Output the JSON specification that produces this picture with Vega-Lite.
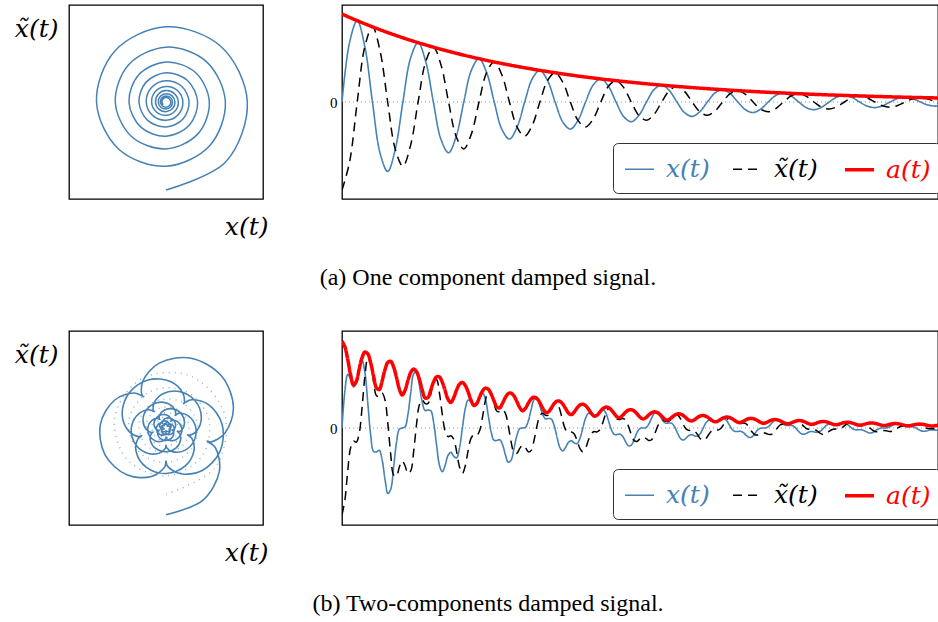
{
"$schema": "https://vega.github.io/schema/vega-lite/v6.json",
"padding": {"left": 13, "top": 4, "right": 0, "bottom": 0},
"background": "white",
"config": {
  "view": {"stroke": "#000", "strokeWidth": 1.3},
  "font": "Liberation Serif",
  "axis": {"grid": false, "titleFontWeight": "normal", "titleColor": "#000", "labelColor": "#000"},
  "legend": {"labelFont": "DejaVu Serif", "labelFontStyle": "italic", "labelFontSize": 25, "symbolType": "stroke", "symbolSize": 841, "strokeColor": "#333", "cornerRadius": 5, "padding": 10, "fillColor": "#fff", "labelOffset": 10, "columnPadding": 20}
},
"resolve": {
  "scale": {"color": "independent", "strokeDash": "independent", "strokeWidth": "independent"},
  "legend": {"color": "independent", "strokeDash": "independent", "strokeWidth": "independent"}
},
"datasets": {
"a": [
{"t":0,"x":0,"xt":-0.907,"a":0.907},{"t":1,"x":0.6166,"xt":-0.6166,"a":0.872},{"t":2,"x":0.8384,"xt":0,"a":0.8384},{"t":3,"x":0.5699,"xt":0.5699,"a":0.806},{"t":4,"x":0,"xt":0.7749,"a":0.7749},{"t":5,"x":-0.5268,"xt":0.5268,"a":0.745},{"t":6,"x":-0.7163,"xt":0,"a":0.7163},{"t":7,"x":-0.487,"xt":-0.487,"a":0.6887},
{"t":8,"x":0,"xt":-0.6621,"a":0.6621},{"t":9,"x":0.4501,"xt":-0.4501,"a":0.6366},{"t":10,"x":0.612,"xt":0,"a":0.612},{"t":11,"x":0.4161,"xt":0.4161,"a":0.5884},{"t":12,"x":0,"xt":0.5657,"a":0.5657},{"t":13,"x":-0.3846,"xt":0.3846,"a":0.5439},{"t":14,"x":-0.5229,"xt":0,"a":0.5229},{"t":15,"x":-0.3555,"xt":-0.3555,"a":0.5027},
{"t":16,"x":0,"xt":-0.4833,"a":0.4833},{"t":17,"x":0.3286,"xt":-0.3286,"a":0.4647},{"t":18,"x":0.4468,"xt":0,"a":0.4468},{"t":19,"x":0.3037,"xt":0.3037,"a":0.4295},{"t":20,"x":0,"xt":0.4129,"a":0.4129},{"t":21,"x":-0.2807,"xt":0.2807,"a":0.397},{"t":22,"x":-0.3817,"xt":0,"a":0.3817},{"t":23,"x":-0.2595,"xt":-0.2595,"a":0.367},
{"t":24,"x":0,"xt":-0.3528,"a":0.3528},{"t":25,"x":0.2398,"xt":-0.2398,"a":0.3392},{"t":26,"x":0.3262,"xt":0,"a":0.3262},{"t":27,"x":0.2217,"xt":0.2217,"a":0.3136},{"t":28,"x":0,"xt":0.3015,"a":0.3015},{"t":29,"x":-0.2049,"xt":0.2049,"a":0.2898},{"t":30,"x":-0.2787,"xt":0,"a":0.2787},{"t":31,"x":-0.1894,"xt":-0.1894,"a":0.2679},
{"t":32,"x":0,"xt":-0.2576,"a":0.2576},{"t":33,"x":0.1751,"xt":-0.1751,"a":0.2476},{"t":34,"x":0.2381,"xt":0,"a":0.2381},{"t":35,"x":0.1619,"xt":0.1619,"a":0.2289},{"t":36,"x":0,"xt":0.2201,"a":0.2201},{"t":37,"x":-0.1496,"xt":0.1496,"a":0.2116},{"t":38,"x":-0.2034,"xt":0,"a":0.2034},{"t":39,"x":-0.1383,"xt":-0.1383,"a":0.1956},
{"t":40,"x":0,"xt":-0.188,"a":0.188},{"t":41,"x":0.1278,"xt":-0.1278,"a":0.1808},{"t":42,"x":0.1738,"xt":0,"a":0.1738},{"t":43,"x":0.1182,"xt":0.1182,"a":0.1671},{"t":44,"x":0,"xt":0.1606,"a":0.1606},{"t":45,"x":-0.1092,"xt":0.1092,"a":0.1544},{"t":46,"x":-0.1485,"xt":0,"a":0.1485},{"t":47,"x":-0.101,"xt":-0.101,"a":0.1428},
{"t":48,"x":0,"xt":-0.1373,"a":0.1373},{"t":49,"x":0.0933,"xt":-0.0933,"a":0.132},{"t":50,"x":0.1269,"xt":0,"a":0.1269},{"t":51,"x":0.0863,"xt":0.0863,"a":0.122},{"t":52,"x":0,"xt":0.1173,"a":0.1173},{"t":53,"x":-0.0797,"xt":0.0797,"a":0.1127},{"t":54,"x":-0.1084,"xt":0,"a":0.1084},{"t":55,"x":-0.0737,"xt":-0.0737,"a":0.1042},
{"t":56,"x":0,"xt":-0.1002,"a":0.1002},{"t":57,"x":0.0681,"xt":-0.0681,"a":0.0963},{"t":58,"x":0.0926,"xt":0,"a":0.0926},{"t":59,"x":0.0629,"xt":0.0629,"a":0.089},{"t":60,"x":0,"xt":0.0856,"a":0.0856},{"t":61,"x":-0.0582,"xt":0.0582,"a":0.0823},{"t":62,"x":-0.0791,"xt":0,"a":0.0791},{"t":63,"x":-0.0538,"xt":-0.0538,"a":0.0761},
{"t":64,"x":0,"xt":-0.0731,"a":0.0731},{"t":65,"x":0.0497,"xt":-0.0497,"a":0.0703},{"t":66,"x":0.0676,"xt":0,"a":0.0676},{"t":67,"x":0.046,"xt":0.046,"a":0.065},{"t":68,"x":0,"xt":0.0625,"a":0.0625},{"t":69,"x":-0.0425,"xt":0.0425,"a":0.0601},{"t":70,"x":-0.0578,"xt":0,"a":0.0578},{"t":71,"x":-0.0392,"xt":-0.0392,"a":0.0555},
{"t":72,"x":0,"xt":-0.0534,"a":0.0534},{"t":73,"x":0.0363,"xt":-0.0363,"a":0.0513},{"t":74,"x":0.0494,"xt":0,"a":0.0494},{"t":75,"x":0.0335,"xt":0.0335,"a":0.0474},{"t":76,"x":0,"xt":0.0456,"a":0.0456},{"t":77,"x":-0.031,"xt":0.031,"a":0.0439},{"t":78,"x":-0.0422,"xt":0,"a":0.0422},{"t":79,"x":-0.0286,"xt":-0.0286,"a":0.0405}
],
"b": [
{"t":0,"x":0,"xt":-0.894,"a":0.894},{"t":1,"x":0.3788,"xt":-0.7461,"a":0.8367},{"t":2,"x":0.5506,"xt":-0.4436,"a":0.707},{"t":3,"x":0.5091,"xt":-0.2036,"a":0.5483},{"t":4,"x":0.4243,"xt":-0.1346,"a":0.445},{"t":5,"x":0.4597,"xt":-0.1453,"a":0.4821},{"t":6,"x":0.6062,"xt":-0.055,"a":0.6087},{"t":7,"x":0.6951,"xt":0.211,"a":0.7265},{"t":8,"x":0.5725,"xt":0.5358,"a":0.7841},{"t":9,"x":0.2576,"xt":0.7196,"a":0.7642},
{"t":10,"x":-0.0703,"xt":0.6691,"a":0.6727},{"t":11,"x":-0.2408,"xt":0.4799,"a":0.5369},{"t":12,"x":-0.246,"xt":0.3346,"a":0.4152},{"t":13,"x":-0.2295,"xt":0.3225,"a":0.3957},{"t":14,"x":-0.3281,"xt":0.3603,"a":0.4873},{"t":15,"x":-0.5278,"xt":0.2887,"a":0.6016},{"t":16,"x":-0.6752,"xt":0.0431,"a":0.6765},{"t":17,"x":-0.63,"xt":-0.2733,"a":0.6868},{"t":18,"x":-0.4042,"xt":-0.483,"a":0.6297},{"t":19,"x":-0.1497,"xt":-0.4997,"a":0.5217},
{"t":20,"x":-0.0129,"xt":-0.4011,"a":0.4012},{"t":21,"x":0,"xt":-0.3402,"a":0.3401},{"t":22,"x":0.0125,"xt":-0.3889,"a":0.3891},{"t":23,"x":0.1408,"xt":-0.4699,"a":0.4905},{"t":24,"x":0.3685,"xt":-0.4404,"a":0.5742},{"t":25,"x":0.557,"xt":-0.2417,"a":0.6072},{"t":26,"x":0.5788,"xt":0.0369,"a":0.58},{"t":27,"x":0.4388,"xt":0.24,"a":0.5001},{"t":28,"x":0.2645,"xt":0.2905,"a":0.3928},{"t":29,"x":0.1794,"xt":0.2521,"a":0.3093},
{"t":30,"x":0.1865,"xt":0.2536,"a":0.3147},{"t":31,"x":0.177,"xt":0.3527,"a":0.3946},{"t":32,"x":0.0501,"xt":0.4769,"a":0.4794},{"t":33,"x":-0.178,"xt":0.4973,"a":0.5282},{"t":34,"x":-0.3837,"xt":0.3591,"a":0.5254},{"t":35,"x":-0.4517,"xt":0.1371,"a":0.4721},{"t":36,"x":-0.382,"xt":-0.0346,"a":0.3836},{"t":37,"x":-0.2809,"xt":-0.0888,"a":0.2946},{"t":38,"x":-0.2514,"xt":-0.0797,"a":0.2637},{"t":39,"x":-0.2925,"xt":-0.117,"a":0.315},
{"t":40,"x":-0.3068,"xt":-0.2472,"a":0.3939},{"t":41,"x":-0.2047,"xt":-0.4031,"a":0.452},{"t":42,"x":0,"xt":-0.4683,"a":0.4683},{"t":43,"x":0.1985,"xt":-0.3909,"a":0.4383},{"t":44,"x":0.2884,"xt":-0.2324,"a":0.3704},{"t":45,"x":0.2667,"xt":-0.1066,"a":0.2872},{"t":46,"x":0.2223,"xt":-0.0705,"a":0.2331},{"t":47,"x":0.2408,"xt":-0.0761,"a":0.2526},{"t":48,"x":0.3176,"xt":-0.0288,"a":0.3189},{"t":49,"x":0.3642,"xt":0.1105,"a":0.3806},
{"t":50,"x":0.2999,"xt":0.2807,"a":0.4107},{"t":51,"x":0.135,"xt":0.377,"a":0.4004},{"t":52,"x":-0.0368,"xt":0.3505,"a":0.3524},{"t":53,"x":-0.1261,"xt":0.2514,"a":0.2812},{"t":54,"x":-0.1289,"xt":0.1753,"a":0.2175},{"t":55,"x":-0.1202,"xt":0.169,"a":0.2073},{"t":56,"x":-0.1719,"xt":0.1888,"a":0.2553},{"t":57,"x":-0.2765,"xt":0.1512,"a":0.3151},{"t":58,"x":-0.3537,"xt":0.0226,"a":0.3544},{"t":59,"x":-0.3301,"xt":-0.1432,"a":0.3598},
{"t":60,"x":-0.2117,"xt":-0.253,"a":0.3299},{"t":61,"x":-0.0784,"xt":-0.2618,"a":0.2733},{"t":62,"x":-0.0067,"xt":-0.2101,"a":0.2102},{"t":63,"x":0,"xt":-0.1782,"a":0.1782},{"t":64,"x":0.0065,"xt":-0.2038,"a":0.2038},{"t":65,"x":0.0738,"xt":-0.2462,"a":0.257},{"t":66,"x":0.1931,"xt":-0.2307,"a":0.3008},{"t":67,"x":0.2918,"xt":-0.1266,"a":0.3181},{"t":68,"x":0.3032,"xt":0.0193,"a":0.3038},{"t":69,"x":0.2299,"xt":0.1257,"a":0.262},
{"t":70,"x":0.1386,"xt":0.1522,"a":0.2058},{"t":71,"x":0.094,"xt":0.1321,"a":0.162},{"t":72,"x":0.0977,"xt":0.1329,"a":0.1649},{"t":73,"x":0.0927,"xt":0.1848,"a":0.2067},{"t":74,"x":0.0262,"xt":0.2498,"a":0.2512},{"t":75,"x":-0.0933,"xt":0.2605,"a":0.2767},{"t":76,"x":-0.201,"xt":0.1881,"a":0.2753},{"t":77,"x":-0.2366,"xt":0.0718,"a":0.2473},{"t":78,"x":-0.2001,"xt":-0.0181,"a":0.2009},{"t":79,"x":-0.1472,"xt":-0.0465,"a":0.1543},
{"t":80,"x":-0.1317,"xt":-0.0418,"a":0.1381},{"t":81,"x":-0.1532,"xt":-0.0613,"a":0.165},{"t":82,"x":-0.1607,"xt":-0.1295,"a":0.2064},{"t":83,"x":-0.1072,"xt":-0.2112,"a":0.2368},{"t":84,"x":0,"xt":-0.2453,"a":0.2453},{"t":85,"x":0.104,"xt":-0.2048,"a":0.2296},{"t":86,"x":0.1511,"xt":-0.1217,"a":0.194},{"t":87,"x":0.1397,"xt":-0.0559,"a":0.1505},{"t":88,"x":0.1165,"xt":-0.0369,"a":0.1221},{"t":89,"x":0.1262,"xt":-0.0399,"a":0.1323},
{"t":90,"x":0.1664,"xt":-0.0151,"a":0.1671},{"t":91,"x":0.1908,"xt":0.0579,"a":0.1994},{"t":92,"x":0.1571,"xt":0.147,"a":0.2152},{"t":93,"x":0.0707,"xt":0.1975,"a":0.2097},{"t":94,"x":-0.0193,"xt":0.1836,"a":0.1846},{"t":95,"x":-0.0661,"xt":0.1317,"a":0.1473},{"t":96,"x":-0.0675,"xt":0.0918,"a":0.1139},{"t":97,"x":-0.063,"xt":0.0885,"a":0.1086},{"t":98,"x":-0.09,"xt":0.0989,"a":0.1337},{"t":99,"x":-0.1449,"xt":0.0792,"a":0.1651},
{"t":100,"x":-0.1853,"xt":0.0118,"a":0.1857},{"t":101,"x":-0.1729,"xt":-0.075,"a":0.1885},{"t":102,"x":-0.1109,"xt":-0.1326,"a":0.1728},{"t":103,"x":-0.0411,"xt":-0.1371,"a":0.1432},{"t":104,"x":-0.0035,"xt":-0.1101,"a":0.1101},{"t":105,"x":0,"xt":-0.0934,"a":0.0933},{"t":106,"x":0.0034,"xt":-0.1067,"a":0.1068},{"t":107,"x":0.0386,"xt":-0.129,"a":0.1346},{"t":108,"x":0.1011,"xt":-0.1209,"a":0.1576},{"t":109,"x":0.1529,"xt":-0.0663,"a":0.1666},
{"t":110,"x":0.1589,"xt":0.0101,"a":0.1592},{"t":111,"x":0.1204,"xt":0.0659,"a":0.1373},{"t":112,"x":0.0726,"xt":0.0797,"a":0.1078},{"t":113,"x":0.0492,"xt":0.0692,"a":0.0849},{"t":114,"x":0.0512,"xt":0.0696,"a":0.0864},{"t":115,"x":0.0486,"xt":0.0968,"a":0.1083},{"t":116,"x":0.0138,"xt":0.1309,"a":0.1316},{"t":117,"x":-0.0489,"xt":0.1365,"a":0.145},{"t":118,"x":-0.1053,"xt":0.0985,"a":0.1442},{"t":119,"x":-0.124,"xt":0.0376,"a":0.1296},
{"t":120,"x":-0.1048,"xt":-0.0095,"a":0.1053},{"t":121,"x":-0.0771,"xt":-0.0244,"a":0.0809},{"t":122,"x":-0.069,"xt":-0.0219,"a":0.0724},{"t":123,"x":-0.0803,"xt":-0.0321,"a":0.0865},{"t":124,"x":-0.0842,"xt":-0.0678,"a":0.1081},{"t":125,"x":-0.0562,"xt":-0.1106,"a":0.1241},{"t":126,"x":0,"xt":-0.1285,"a":0.1285},{"t":127,"x":0.0545,"xt":-0.1073,"a":0.1203},{"t":128,"x":0.0792,"xt":-0.0638,"a":0.1016},{"t":129,"x":0.0732,"xt":-0.0293,"a":0.0788},
{"t":130,"x":0.061,"xt":-0.0193,"a":0.064},{"t":131,"x":0.0661,"xt":-0.0209,"a":0.0693},{"t":132,"x":0.0872,"xt":-0.0079,"a":0.0875},{"t":133,"x":0.0999,"xt":0.0303,"a":0.1044},{"t":134,"x":0.0823,"xt":0.077,"a":0.1127},{"t":135,"x":0.037,"xt":0.1035,"a":0.1099},{"t":136,"x":-0.0101,"xt":0.0962,"a":0.0967},{"t":137,"x":-0.0346,"xt":0.069,"a":0.0772},{"t":138,"x":-0.0354,"xt":0.0481,"a":0.0597},{"t":139,"x":-0.033,"xt":0.0464,"a":0.0569},
{"t":140,"x":-0.0472,"xt":0.0518,"a":0.0701},{"t":141,"x":-0.0759,"xt":0.0415,"a":0.0865},{"t":142,"x":-0.0971,"xt":0.0062,"a":0.0973},{"t":143,"x":-0.0906,"xt":-0.0393,"a":0.0987},{"t":144,"x":-0.0581,"xt":-0.0694,"a":0.0905},{"t":145,"x":-0.0215,"xt":-0.0718,"a":0.075},{"t":146,"x":-0.0018,"xt":-0.0577,"a":0.0577},{"t":147,"x":0,"xt":-0.0489,"a":0.0489},{"t":148,"x":0.0018,"xt":-0.0559,"a":0.0559},{"t":149,"x":0.0202,"xt":-0.0676,"a":0.0705},
{"t":150,"x":0.053,"xt":-0.0633,"a":0.0825},{"t":151,"x":0.0801,"xt":-0.0347,"a":0.0873},{"t":152,"x":0.0832,"xt":0.0053,"a":0.0834},{"t":153,"x":0.0631,"xt":0.0345,"a":0.0719},{"t":154,"x":0.038,"xt":0.0418,"a":0.0565},{"t":155,"x":0.0258,"xt":0.0362,"a":0.0445},{"t":156,"x":0.0268,"xt":0.0365,"a":0.0452},{"t":157,"x":0.0254,"xt":0.0507,"a":0.0567},{"t":158,"x":0.0072,"xt":0.0686,"a":0.0689},{"t":159,"x":-0.0256,"xt":0.0715,"a":0.0759},
{"t":160,"x":-0.0552,"xt":0.0516,"a":0.0755},{"t":161,"x":-0.0649,"xt":0.0197,"a":0.0679},{"t":162,"x":-0.0549,"xt":-0.005,"a":0.0552},{"t":163,"x":-0.0404,"xt":-0.0128,"a":0.0424},{"t":164,"x":-0.0361,"xt":-0.0115,"a":0.0379},{"t":165,"x":-0.0421,"xt":-0.0168,"a":0.0453},{"t":166,"x":-0.0441,"xt":-0.0355,"a":0.0566},{"t":167,"x":-0.0294,"xt":-0.058,"a":0.065},{"t":168,"x":0,"xt":-0.0673,"a":0.0673},{"t":169,"x":0.0285,"xt":-0.0562,"a":0.063},
{"t":170,"x":0.0415,"xt":-0.0334,"a":0.0533},{"t":171,"x":0.0383,"xt":-0.0153,"a":0.0413},{"t":172,"x":0.032,"xt":-0.0101,"a":0.0335},{"t":173,"x":0.0346,"xt":-0.0109,"a":0.0363},{"t":174,"x":0.0457,"xt":-0.0041,"a":0.0459},{"t":175,"x":0.0524,"xt":0.0159,"a":0.0547},{"t":176,"x":0.0431,"xt":0.0404,"a":0.0591},{"t":177,"x":0.0194,"xt":0.0542,"a":0.0576},{"t":178,"x":-0.0053,"xt":0.0504,"a":0.0507},{"t":179,"x":-0.0181,"xt":0.0361,"a":0.0404},
{"t":180,"x":-0.0185,"xt":0.0252,"a":0.0313},{"t":181,"x":-0.0173,"xt":0.0243,"a":0.0298},{"t":182,"x":-0.0247,"xt":0.0271,"a":0.0367},{"t":183,"x":-0.0398,"xt":0.0217,"a":0.0453},{"t":184,"x":-0.0509,"xt":0.0032,"a":0.051},{"t":185,"x":-0.0475,"xt":-0.0206,"a":0.0517},{"t":186,"x":-0.0304,"xt":-0.0364,"a":0.0474},{"t":187,"x":-0.0113,"xt":-0.0376,"a":0.0393},{"t":188,"x":-0.001,"xt":-0.0302,"a":0.0302},{"t":189,"x":0,"xt":-0.0256,"a":0.0256},
{"t":190,"x":0.0009,"xt":-0.0293,"a":0.0293},{"t":191,"x":0.0106,"xt":-0.0354,"a":0.037},{"t":192,"x":0.0278,"xt":-0.0332,"a":0.0433},{"t":193,"x":0.042,"xt":-0.0182,"a":0.0457},{"t":194,"x":0.0436,"xt":0.0028,"a":0.0437},{"t":195,"x":0.0331,"xt":0.0181,"a":0.0377},{"t":196,"x":0.0199,"xt":0.0219,"a":0.0296},{"t":197,"x":0.0135,"xt":0.019,"a":0.0233},{"t":198,"x":0.014,"xt":0.0191,"a":0.0237},{"t":199,"x":0.0133,"xt":0.0266,"a":0.0297},
{"t":200,"x":0.0038,"xt":0.0359,"a":0.0361},{"t":201,"x":-0.0134,"xt":0.0375,"a":0.0398},{"t":202,"x":-0.0289,"xt":0.027,"a":0.0396},{"t":203,"x":-0.034,"xt":0.0103,"a":0.0356},{"t":204,"x":-0.0288,"xt":-0.0026,"a":0.0289},{"t":205,"x":-0.0212,"xt":-0.0067,"a":0.0222},{"t":206,"x":-0.0189,"xt":-0.006,"a":0.0199},{"t":207,"x":-0.022,"xt":-0.0088,"a":0.0237},{"t":208,"x":-0.0231,"xt":-0.0186,"a":0.0297}
],
"b1": [
{"t":0,"x":0,"xt":-0.682},{"t":3,"x":0.5091,"xt":-0.406},{"t":6,"x":0.6062,"xt":0.1383},{"t":9,"x":0.2576,"xt":0.535},{"t":12,"x":-0.246,"xt":0.5109},{"t":15,"x":-0.5278,"xt":0.1204},{"t":18,"x":-0.4042,"xt":-0.3223},
{"t":21,"x":0,"xt":-0.4936},{"t":24,"x":0.3685,"xt":-0.2939},{"t":27,"x":0.4388,"xt":0.1001},{"t":30,"x":0.1865,"xt":0.3872},{"t":33,"x":-0.178,"xt":0.3698},{"t":36,"x":-0.382,"xt":0.0872},{"t":39,"x":-0.2925,"xt":-0.2333},
{"t":42,"x":0,"xt":-0.3573},{"t":45,"x":0.2667,"xt":-0.2127},{"t":48,"x":0.3176,"xt":0.0725},{"t":51,"x":0.135,"xt":0.2803},{"t":54,"x":-0.1289,"xt":0.2676},{"t":57,"x":-0.2765,"xt":0.0631},{"t":60,"x":-0.2117,"xt":-0.1688},
{"t":63,"x":0,"xt":-0.2586},{"t":66,"x":0.1931,"xt":-0.1539},{"t":69,"x":0.2299,"xt":0.0524},{"t":72,"x":0.0977,"xt":0.2029},{"t":75,"x":-0.0933,"xt":0.1937},{"t":78,"x":-0.2001,"xt":0.0457},{"t":81,"x":-0.1532,"xt":-0.1222},
{"t":84,"x":0,"xt":-0.1872},{"t":87,"x":0.1397,"xt":-0.1114},{"t":90,"x":0.1664,"xt":0.038},{"t":93,"x":0.0707,"xt":0.1468},{"t":96,"x":-0.0675,"xt":0.1402},{"t":99,"x":-0.1449,"xt":0.033},{"t":102,"x":-0.1109,"xt":-0.0885},
{"t":105,"x":0,"xt":-0.1355},{"t":108,"x":0.1011,"xt":-0.0807},{"t":111,"x":0.1204,"xt":0.0275},{"t":114,"x":0.0512,"xt":0.1063},{"t":117,"x":-0.0489,"xt":0.1015},{"t":120,"x":-0.1048,"xt":0.0239},{"t":123,"x":-0.0803,"xt":-0.064},
{"t":126,"x":0,"xt":-0.0981},{"t":129,"x":0.0732,"xt":-0.0584},{"t":132,"x":0.0872,"xt":0.0199},{"t":135,"x":0.037,"xt":0.0769},{"t":138,"x":-0.0354,"xt":0.0734},{"t":141,"x":-0.0759,"xt":0.0173},{"t":144,"x":-0.0581,"xt":-0.0463},{"t":147,"x":0,"xt":-0.071}
]
},
"concat": [
  {
   "width": 194, "height": 194,
   "data": {"name": "a"},
   "mark": {"type": "line", "interpolate": "catmull-rom", "color": "#4682b4", "strokeWidth": 1.5},
   "encoding": {
    "x": {"field": "x", "type": "quantitative", "scale": {"domain": [-1, 1], "nice": false, "zero": false}, "axis": {"title": "x(t)", "labels": false, "ticks": false, "domain": false, "titleAngle": 0, "titleAlign": "right", "titleBaseline": "alphabetic", "titleX": 199, "titleY": 35, "titleFont": "DejaVu Serif", "titleFontStyle": "italic", "titleFontSize": 25}},
    "y": {"field": "xt", "type": "quantitative", "scale": {"domain": [-1, 1], "nice": false, "zero": false}, "axis": {"title": "x̃(t)", "labels": false, "ticks": false, "domain": false, "titleAngle": 0, "titleAlign": "right", "titleBaseline": "alphabetic", "titleX": -11, "titleY": 31, "titleFont": "DejaVu Serif", "titleFontStyle": "italic", "titleFontSize": 25}},
    "order": {"field": "t", "type": "quantitative"}
   }
  },
  {
   "width": 596, "height": 194,
   "title": {"text": "(a) One component damped signal.", "orient": "bottom", "anchor": "middle", "frame": "group", "offset": 86, "dx": -152, "baseline": "alphabetic", "font": "Liberation Serif", "fontSize": 24, "fontWeight": "normal", "color": "#000"},
   "layer": [
    {
     "data": {"values": [{"zero": 0}]},
     "mark": {"type": "rule", "color": "#999", "strokeDash": [1, 3], "strokeWidth": 1},
     "encoding": {"y": {"field": "zero", "type": "quantitative", "scale": {"domain": [-1, 1], "nice": false, "zero": false}, "axis": {"values": [0], "ticks": false, "domain": false, "title": null, "labelFont": "Liberation Serif", "labelFontSize": 15, "labelPadding": 5}}}
    },
    {
     "data": {"name": "a"},
     "transform": [{"fold": ["x", "xt", "a"], "as": ["series", "v"]}],
     "mark": {"type": "line", "interpolate": "catmull-rom", "clip": true},
     "encoding": {
      "x": {"field": "t", "type": "quantitative", "scale": {"domain": [0, 78.3], "nice": false, "zero": false}, "axis": null},
      "y": {"field": "v", "type": "quantitative", "scale": {"domain": [-1, 1], "nice": false, "zero": false}, "axis": {"values": [0], "ticks": false, "domain": false, "title": null, "labelFont": "Liberation Serif", "labelFontSize": 15, "labelPadding": 5}},
      "color": {"field": "series", "type": "nominal", "scale": {"domain": ["x", "xt", "a"], "range": ["#4682b4", "#000000", "#ff0000"]}, "legend": {"title": null, "orient": "none", "legendX": 271, "legendY": 138, "direction": "horizontal", "columns": 3, "labelExpr": "datum.value == 'x' ? 'x(t)' : (datum.value == 'xt' ? 'x̃(t)' : 'a(t)')", "encode": {"labels": {"update": {"fill": {"signal": "datum.value == 'x' ? '#4682b4' : (datum.value == 'a' ? '#ff0000' : '#000000')"}}}}}},
      "strokeDash": {"field": "series", "type": "nominal", "scale": {"domain": ["x", "xt", "a"], "range": [[1, 0], [9, 6], [1, 0]]}},
      "strokeWidth": {"field": "series", "type": "ordinal", "scale": {"type": "ordinal", "domain": ["x", "xt", "a"], "range": [1.6, 1.5, 3.5]}}
     }
    }
   ]
  },
  {
   "width": 194, "height": 194,
   "layer": [
    {
     "data": {"name": "b1"},
     "mark": {"type": "line", "interpolate": "catmull-rom", "color": "#8ab3d8", "strokeWidth": 1.5, "strokeDash": [1, 5]},
     "encoding": {
      "x": {"field": "x", "type": "quantitative", "scale": {"domain": [-1, 1], "nice": false, "zero": false}, "axis": {"title": "x(t)", "labels": false, "ticks": false, "domain": false, "titleAngle": 0, "titleAlign": "right", "titleBaseline": "alphabetic", "titleX": 199, "titleY": 35, "titleFont": "DejaVu Serif", "titleFontStyle": "italic", "titleFontSize": 25}},
      "y": {"field": "xt", "type": "quantitative", "scale": {"domain": [-1, 1], "nice": false, "zero": false}, "axis": {"title": "x̃(t)", "labels": false, "ticks": false, "domain": false, "titleAngle": 0, "titleAlign": "right", "titleBaseline": "alphabetic", "titleX": -11, "titleY": 31, "titleFont": "DejaVu Serif", "titleFontStyle": "italic", "titleFontSize": 25}},
      "order": {"field": "t", "type": "quantitative"}
     }
    },
    {
     "data": {"name": "b"},
     "mark": {"type": "line", "interpolate": "catmull-rom", "color": "#4682b4", "strokeWidth": 1.6},
     "encoding": {
      "x": {"field": "x", "type": "quantitative"},
      "y": {"field": "xt", "type": "quantitative"},
      "order": {"field": "t", "type": "quantitative"}
     }
    }
   ]
  },
  {
   "width": 596, "height": 194,
   "title": {"text": "(b) Two-components damped signal.", "orient": "bottom", "anchor": "middle", "frame": "group", "offset": 86, "dx": -152, "baseline": "alphabetic", "font": "Liberation Serif", "fontSize": 24, "fontWeight": "normal", "color": "#000"},
   "layer": [
    {
     "data": {"values": [{"zero": 0}]},
     "mark": {"type": "rule", "color": "#999", "strokeDash": [1, 3], "strokeWidth": 1},
     "encoding": {"y": {"field": "zero", "type": "quantitative", "scale": {"domain": [-1, 1], "nice": false, "zero": false}, "axis": {"values": [0], "ticks": false, "domain": false, "title": null, "labelFont": "Liberation Serif", "labelFontSize": 15, "labelPadding": 5}}}
    },
    {
     "data": {"name": "b"},
     "transform": [{"fold": ["x", "xt", "a"], "as": ["series", "v"]}],
     "mark": {"type": "line", "interpolate": "catmull-rom", "clip": true},
     "encoding": {
      "x": {"field": "t", "type": "quantitative", "scale": {"domain": [0, 207.9], "nice": false, "zero": false}, "axis": null},
      "y": {"field": "v", "type": "quantitative", "scale": {"domain": [-1, 1], "nice": false, "zero": false}, "axis": {"values": [0], "ticks": false, "domain": false, "title": null, "labelFont": "Liberation Serif", "labelFontSize": 15, "labelPadding": 5}},
      "color": {"field": "series", "type": "nominal", "scale": {"domain": ["x", "xt", "a"], "range": ["#4682b4", "#000000", "#ff0000"]}, "legend": {"title": null, "orient": "none", "legendX": 271, "legendY": 138, "direction": "horizontal", "columns": 3, "labelExpr": "datum.value == 'x' ? 'x(t)' : (datum.value == 'xt' ? 'x̃(t)' : 'a(t)')", "encode": {"labels": {"update": {"fill": {"signal": "datum.value == 'x' ? '#4682b4' : (datum.value == 'a' ? '#ff0000' : '#000000')"}}}}}},
      "strokeDash": {"field": "series", "type": "nominal", "scale": {"domain": ["x", "xt", "a"], "range": [[1, 0], [9, 6], [1, 0]]}},
      "strokeWidth": {"field": "series", "type": "ordinal", "scale": {"type": "ordinal", "domain": ["x", "xt", "a"], "range": [1.6, 1.5, 3.5]}}
     }
    }
   ]
  }
],
"columns": 2,
"spacing": {"row": 132, "column": 79},
"bounds": "flush"
}
